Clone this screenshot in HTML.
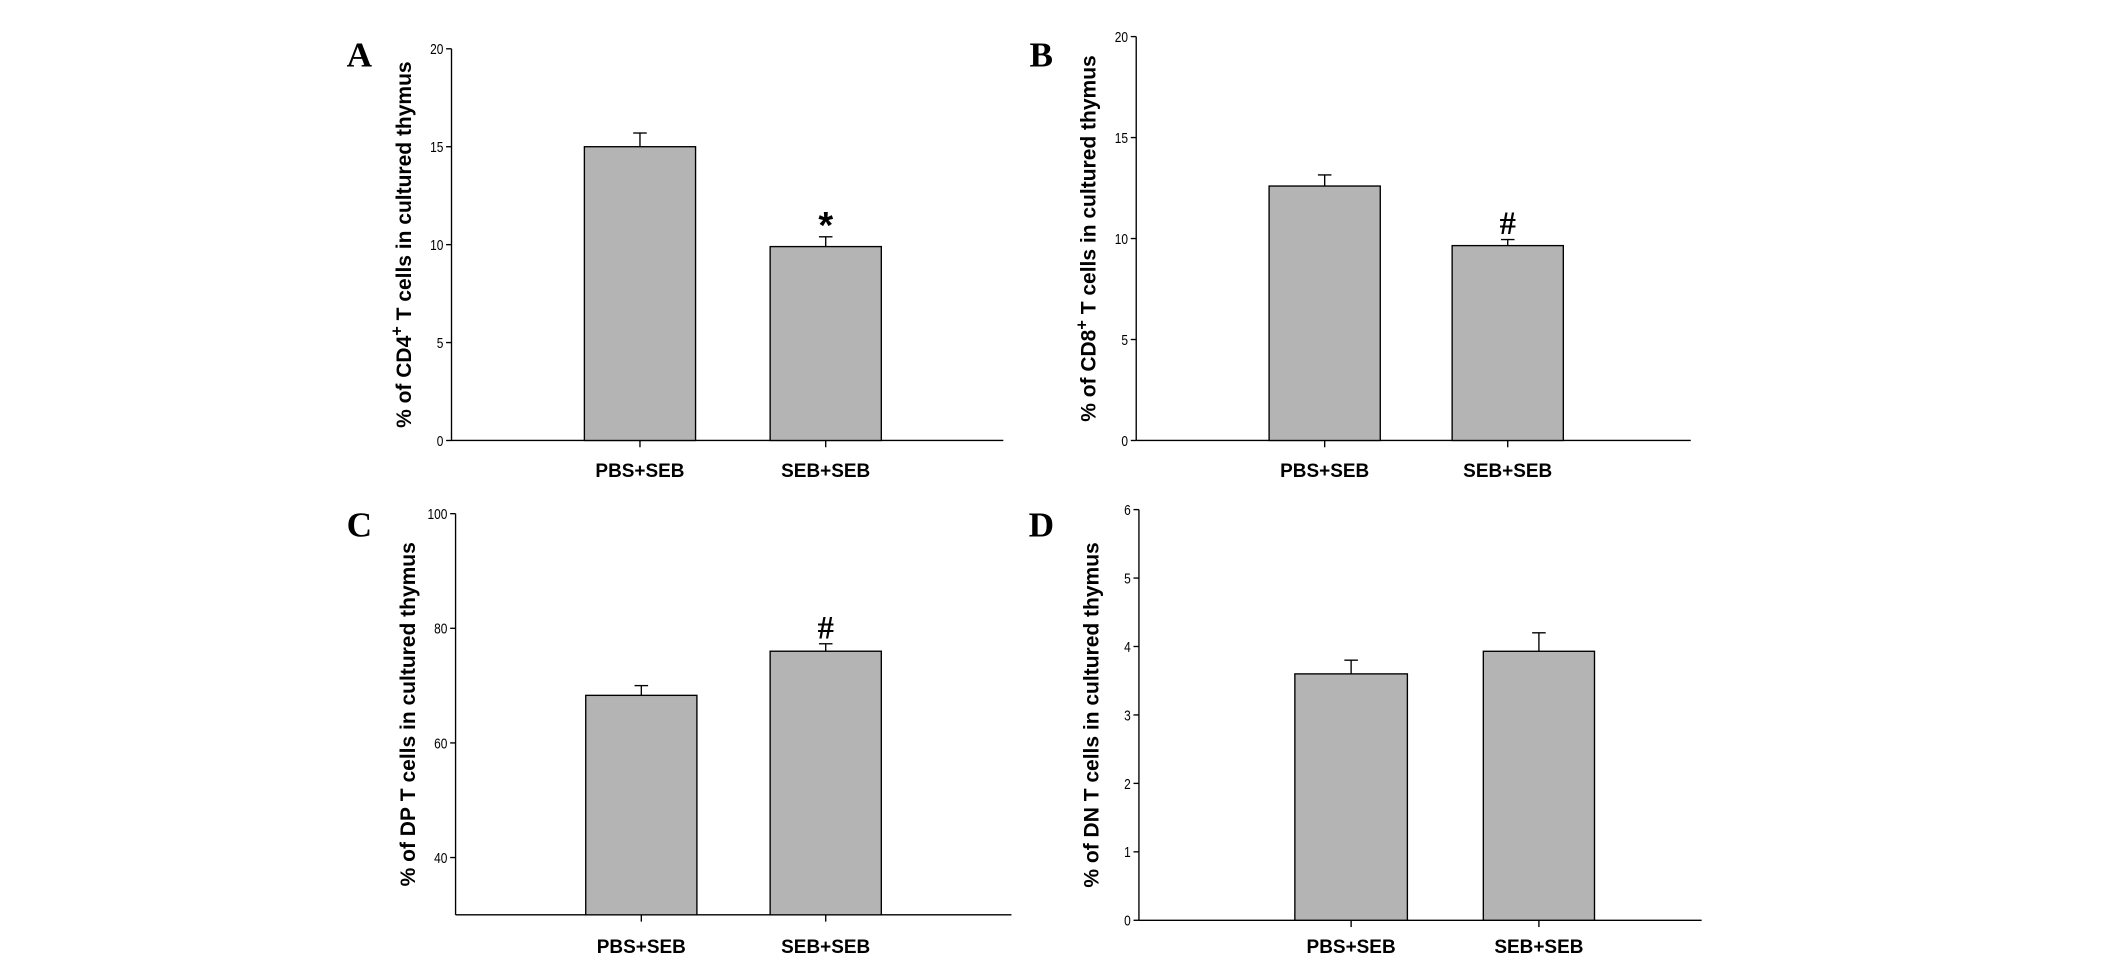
<!DOCTYPE html>
<html><head><meta charset="utf-8"><style>
html,body{margin:0;padding:0;background:#fff;width:2126px;height:965px;overflow:hidden}
svg{display:block}
</style></head><body>
<svg id="fig" width="2126" height="965" viewBox="0 0 1568 712" preserveAspectRatio="none" xmlns="http://www.w3.org/2000/svg"></svg>
<script>
const categories = ["PBS+SEB", "SEB+SEB"];
const valuesA = [15.0, 9.9];
const errorsA = [0.7, 0.5];
const valuesB = [12.6, 9.65];
const errorsB = [0.55, 0.3];
const valuesC = [68.3, 76.0];
const errorsC = [1.7, 1.3];
const valuesD = [3.6, 3.93];
const errorsD = [0.2, 0.27];
const ticksA = [0, 5, 10, 15, 20];
const ticksB = [0, 5, 10, 15, 20];
const ticksC = [40, 60, 80, 100];
const ticksD = [0, 1, 2, 3, 4, 5, 6];
const marksA = ["", "*"];
const marksB = ["", "#"];
const marksC = ["", "#"];
const marksD = ["", ""];

const NS = "http://www.w3.org/2000/svg";
const svg = document.getElementById("fig");
function mk(tag, attrs, parent) {
  const e = document.createElementNS(NS, tag);
  for (const k in attrs) e.setAttribute(k, attrs[k]);
  (parent || svg).appendChild(e);
  return e;
}
const panels = [
  {id:"a", letter:"A", lx:265, ly:43, ax:333, top:36, bot:325, end:740, ymin:0, ymax:20, bars:[[431,513],[568,650]], vals:valuesA, errs:errorsA, ticks:ticksA, marks:marksA, title:"CD4", sup:true, catY:352},
  {id:"b", letter:"B", lx:768, ly:43, ax:838, top:27, bot:325, end:1247, ymin:0, ymax:20, bars:[[936,1018],[1071,1153]], vals:valuesB, errs:errorsB, ticks:ticksB, marks:marksB, title:"CD8", sup:true, catY:352},
  {id:"c", letter:"C", lx:265, ly:390, ax:336, top:379, bot:675, end:746, ymin:30, ymax:100, bars:[[432,514],[568,650]], vals:valuesC, errs:errorsC, ticks:ticksC, marks:marksC, title:"DP", sup:false, catY:703},
  {id:"d", letter:"D", lx:768, ly:390, ax:840, top:376, bot:679, end:1255, ymin:0, ymax:6, bars:[[955,1038],[1094,1176]], vals:valuesD, errs:errorsD, ticks:ticksD, marks:marksD, title:"DN", sup:false, catY:703}
];
panels.forEach(p => {
  const g = mk("g", {});
  
  
  const y = v => p.bot - (v - p.ymin) / (p.ymax - p.ymin) * (p.bot - p.top);
  const L = mk("text", {x:p.lx, y:p.ly, "font-family":"Liberation Serif, serif", "font-weight":"bold", "font-size":"26", "text-anchor":"middle", "dominant-baseline":"middle"}, g);
  L.textContent = p.letter;
  
  
  const yAxis = mk("line", {x1:p.ax, y1:p.top, x2:p.ax, y2:p.bot, stroke:"#000", "stroke-width":1}, g);
  
  
  const xAxis = mk("line", {x1:p.ax, y1:p.bot, x2:p.end, y2:p.bot, stroke:"#000", "stroke-width":1}, g);
  
  
  p.ticks.forEach(t => {
    const ty = y(t);
    mk("line", {x1:p.ax-4, y1:ty, x2:p.ax, y2:ty, stroke:"#000", "stroke-width":1}, g);
    const tt = mk("text", {x:p.ax-6, y:ty+4, "font-family":"Liberation Sans Narrow, Liberation Sans, sans-serif", "font-size":"11", "text-anchor":"end", transform:"translate(" + (p.ax-6) + "," + (ty+4) + ") scale(0.8,1) translate(" + (-(p.ax-6)) + "," + (-(ty+4)) + ")"}, g);
    tt.textContent = t;
    
    
  });
  const cy = (p.top + p.bot) / 2;
  const tx = p.ax - 30;
  const ttl = mk("text", {x:tx, y:cy, "font-family":"Liberation Sans, sans-serif", "font-weight":"bold", "font-size":"15.5", "text-anchor":"middle", transform:"rotate(-90 " + tx + " " + cy + ")"}, g);
  
  
  const s1 = mk("tspan", {}, ttl); s1.textContent = "% of " + p.title;
  if (p.sup) { const s2 = mk("tspan", {dy:"-6", "font-size":"12"}, ttl); s2.textContent = "+"; const s3 = mk("tspan", {dy:"6"}, ttl); s3.textContent = " T cells in cultured thymus"; }
  else { const s3 = mk("tspan", {}, ttl); s3.textContent = " T cells in cultured thymus"; }
  categories.forEach((c, i) => {
    const [x0, x1] = p.bars[i];
    const cx = (x0 + x1) / 2;
    const vy = y(p.vals[i]);
    const ey = y(p.vals[i] + p.errs[i]);
    const eb = mk("line", {x1:cx, y1:vy, x2:cx, y2:ey, stroke:"#000", "stroke-width":1}, g);
    
    
    mk("line", {x1:cx-5, y1:ey, x2:cx+5, y2:ey, stroke:"#000", "stroke-width":1}, g);
    const r = mk("rect", {x:x0, y:vy, width:x1-x0, height:p.bot-vy, fill:"#b4b4b4", stroke:"#000", "stroke-width":1}, g);
    
    
    mk("line", {x1:cx, y1:p.bot, x2:cx, y2:p.bot+5, stroke:"#000", "stroke-width":1}, g);
    const cl = mk("text", {x:cx, y:p.catY, "font-family":"Liberation Sans, sans-serif", "font-weight":"bold", "font-size":"14", "text-anchor":"middle"}, g);
    cl.textContent = c;
    
    
    if (p.marks[i]) {
      const isStar = p.marks[i] === "*";
      const m = mk("text", {x:cx, y:ey + (isStar ? 1 : -4), "font-family":isStar ? "Liberation Sans, sans-serif" : "Liberation Serif, serif", "font-weight":"bold", "font-size":isStar ? "28" : "24", "text-anchor":"middle"}, g);
      m.textContent = p.marks[i];
      
      
    }
  });
});
</script>
</body></html>
